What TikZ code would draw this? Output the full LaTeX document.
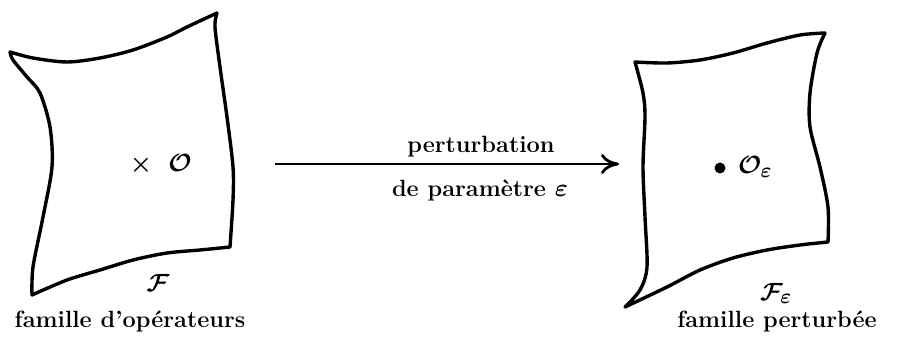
\documentclass[tikz,border=0pt]{standalone}
\usepackage{amsmath}
\usetikzlibrary{arrows.meta}
\tikzset{
  surf/.style={line width=3.4pt, line join=round, line cap=round},
  lbl/.style={inner sep=0pt, font=\fontsize{23.5}{28}\selectfont\bfseries},
  mlbl/.style={inner sep=0pt, font=\fontsize{30}{36}\selectfont},
  conn/.style={line width=2.8pt, -{Computer Modern Rightarrow[length=18pt,width=20pt,line width=2.8pt]}}
}
\begin{document}
\begin{tikzpicture}[x=1pt,y=-1pt]
\useasboundingbox (0,0) rectangle (901,344);
% left surface
\draw[surf] plot[smooth] coordinates {(10,52)(33,58)(67,62)(100,58)(133,50)(167,37)(187,27)(217,13)}
  -- plot[smooth] coordinates {(217,13)(215,27)(220,67)(227,117)(233,167)(233,200)(230,247)}
  -- plot[smooth] coordinates {(230,247)(200,250)(167,253)(133,260)(100,270)(67,280)(32,295)}
  -- plot[smooth] coordinates {(32,295)(33,267)(43,217)(52,167)(50,127)(40,93)(27,77)(13,60)(10,52)};
% right surface
\draw[surf] plot[smooth] coordinates {(635,62)(667,63)(700,60)(733,53)(767,43)(800,35)(825,33)}
  -- plot[smooth] coordinates {(825,33)(817,53)(810,93)(810,127)(820,167)(828,207)(828,242)}
  -- plot[smooth] coordinates {(828,242)(800,245)(767,250)(733,258)(700,270)(667,287)(625,307)}
  -- plot[smooth] coordinates {(625,307)(640,290)(647,267)(645,217)(643,167)(645,117)(643,93)(635,62)};
% points
\node[mlbl] (cross) at (141,165) {$\boldsymbol{\times}$};
\node[mlbl] (O) at (180,163) {$\boldsymbol{\mathcal{O}}$};
\fill (720,168) circle (5.5pt);
\node[mlbl, anchor=base west] (Oe) at (738,174) {$\boldsymbol{\mathcal{O}_{\varepsilon}}$};
% family labels
\node[mlbl, anchor=base] (F) at (158,291) {$\boldsymbol{\mathcal{F}}$};
\node[lbl, anchor=base] (fam1) at (130,327) {famille d'opérateurs};
\node[mlbl, anchor=base] (Fe) at (776,300) {$\boldsymbol{\mathcal{F}_{\varepsilon}}$};
\node[lbl, anchor=base] (fam2) at (777,327) {famille perturbée};
% arrow
\coordinate (a1) at (275,164);
\coordinate (a2) at (619,164);
\draw[conn] (a1) -- (a2);
\node[lbl, anchor=base] (p1) at (481,153) {perturbation};
\node[lbl, anchor=base] (p2) at (480,197) {de paramètre $\boldsymbol{\varepsilon}$};
\end{tikzpicture}
\end{document}
